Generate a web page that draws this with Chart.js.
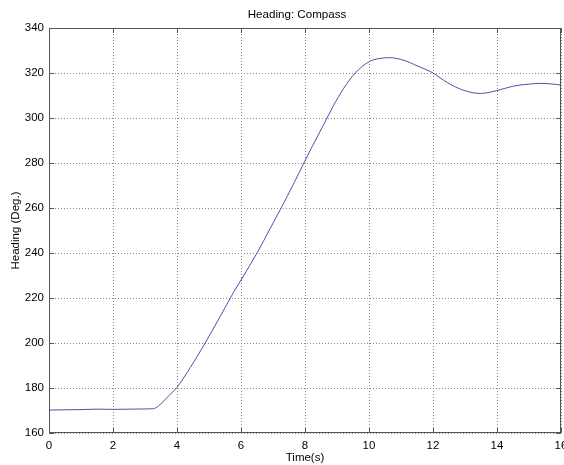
<!DOCTYPE html>
<html>
<head>
<meta charset="utf-8">
<script src="https://cdn.jsdelivr.net/npm/chart.js@4"></script>
<style>
  html, body { margin: 0; padding: 0; background: #fff; }
  #wrap { width: 564px; height: 465px; }
</style>
</head>
<body>
<div id="wrap"><canvas id="headingChart" width="564" height="465"></canvas></div>
<script>
// values
const timeSec = [0, 0.5, 1.0, 1.5, 2.0, 2.5, 3.0, 3.26, 3.42, 3.69, 4.0, 4.42, 4.88, 5.35, 5.77, 6.0,
  6.5, 6.92, 7.28, 7.6, 8.0, 8.22, 8.58, 8.89, 9.2, 9.57, 10.0, 10.3, 10.66, 11.08, 11.5, 12.0,
  12.44, 12.96, 13.48, 14.0, 14.52, 15.04, 15.35, 15.87, 16.0];
const headingDeg = [170.2, 170.3, 170.4, 170.6, 170.5, 170.6, 170.7, 170.8, 172.0, 175.8, 180.3, 189.2, 200, 211.8, 222.6, 228,
  240, 251.1, 260.7, 269.5, 281, 287.2, 297, 305.5, 313, 320, 325, 326.4, 326.8, 325.7, 323.2, 320,
  315.8, 312.3, 310.9, 312.2, 314.2, 315.1, 315.4, 314.9, 314.6];
const xTicks = [0, 2, 4, 6, 8, 10, 12, 14, 16];
const yTicks = [160, 180, 200, 220, 240, 260, 280, 300, 320, 340];

const titleText = 'Heading: Compass';
const FONT = 'Liberation Sans, Arial, Helvetica, sans-serif';

// matlab style box, inward ticks and title
const matlabBox = {
    id: 'matlabBox',
    afterDraw(chart) {
        const { ctx, chartArea: a, scales } = chart;
        ctx.save();
        ctx.strokeStyle = '#555';
        ctx.lineWidth = 1;
        ctx.strokeRect(a.left + 0.5, a.top + 0.5, a.right - a.left - 1, a.bottom - a.top - 1);
        ctx.beginPath();
        xTicks.forEach(v => {
            const px = Math.round(scales.x.getPixelForValue(v)) + 0.5;
            ctx.moveTo(px, a.bottom); ctx.lineTo(px, a.bottom - 5);
            ctx.moveTo(px, a.top); ctx.lineTo(px, a.top + 5);
        });
        yTicks.forEach(v => {
            const py = Math.round(scales.y.getPixelForValue(v)) + 0.5;
            ctx.moveTo(a.left, py); ctx.lineTo(a.left + 5, py);
            ctx.moveTo(a.right, py); ctx.lineTo(a.right - 5, py);
        });
        ctx.stroke();
        ctx.fillStyle = '#000';
        ctx.font = '11.6px ' + FONT;
        ctx.textAlign = 'center';
        ctx.textBaseline = 'middle';
        ctx.fillText(titleText, 297, 15);
        ctx.restore();
    }
};

new Chart(document.getElementById('headingChart'), {
    type: 'line',
    data: {
        datasets: [{
            label: 'Heading',
            data: timeSec.map((t, i) => ({ x: t, y: headingDeg[i] })),
            borderColor: '#4f4fae',
            borderWidth: 1,
            pointRadius: 0,
            fill: false,
            cubicInterpolationMode: 'monotone',
        }],
    },
    options: {
        responsive: false,
        animation: false,
        layout: { padding: { top: 28, right: 3, bottom: 0, left: 0 } },
        plugins: {
            legend: { display: false },
            tooltip: { enabled: false },
        },
        scales: {
            x: {
                type: 'linear',
                min: 0,
                max: 16,
                afterBuildTicks: s => { s.ticks = xTicks.map(v => ({ value: v })); },
                afterFit: s => { s.height = 32; s.paddingRight = 0; s.paddingLeft = 0; },
                border: { display: false, dash: [1, 2] },  // dash here = dotted grid in v4
                grid: { color: '#8a8a8a', drawTicks: false },
                ticks: { color: '#000', padding: 6, maxRotation: 0, font: { family: FONT, size: 11.5 } },
                title: {
                    display: true,
                    text: 'Time(s)',
                    color: '#000',
                    padding: { top: 0, bottom: 0 },
                    font: { family: FONT, size: 11.5 },
                },
            },
            y: {
                min: 160,
                max: 340,
                afterBuildTicks: s => { s.ticks = yTicks.map(v => ({ value: v })); },
                afterFit: s => { s.width = 49; s.paddingTop = 0; s.paddingBottom = 0; },
                border: { display: false, dash: [1, 2] },
                grid: { color: '#8a8a8a', drawTicks: false },
                ticks: { color: '#000', padding: 5, font: { family: FONT, size: 11.5 } },
                title: {
                    display: true,
                    text: 'Heading (Deg.)',
                    color: '#000',
                    padding: { top: 9, bottom: 0 },
                    font: { family: FONT, size: 11.5 },
                },
            },
        },
    },
    plugins: [matlabBox],
});
</script>
</body>
</html>
